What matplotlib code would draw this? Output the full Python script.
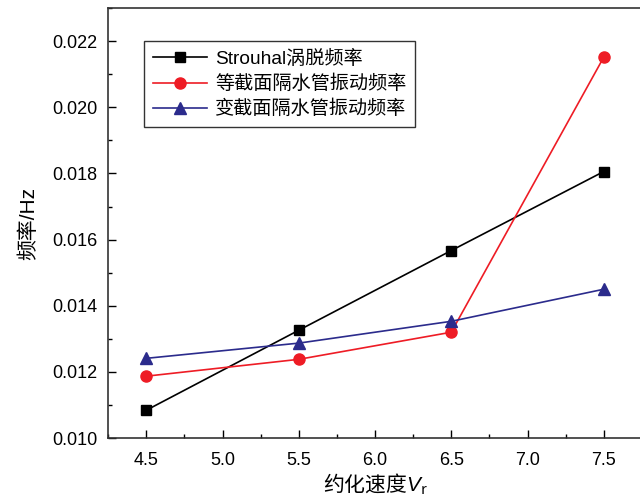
import numpy as np
import matplotlib.pyplot as plt
from matplotlib.ticker import MultipleLocator, FormatStrFormatter

plt.rcParams['font.family'] = ['Liberation Sans', 'Noto Sans CJK SC', 'DejaVu Sans']
plt.rcParams['mathtext.fontset'] = 'custom'
plt.rcParams['mathtext.rm'] = 'Noto Sans CJK SC'
plt.rcParams['mathtext.it'] = 'Liberation Sans:italic'

vr = [4.5, 5.5, 6.5, 7.5]
strouhal = [0.01084, 0.01326, 0.01567, 0.01806]
uniform = [0.01187, 0.01238, 0.01320, 0.02152]
tapered = [0.01241, 0.01287, 0.01353, 0.01450]

labels = ["Strouhal涡脱频率", "等截面隔水管振动频率", "变截面隔水管振动频率"]

fig = plt.figure(figsize=(6.4, 5.01), dpi=100)
ax = fig.add_axes([0.169, 0.1257, 0.834, 0.858])

ax.plot(vr, strouhal, color="black", marker="s", markersize=7, linewidth=1.2, label=labels[0])
ax.plot(vr, uniform, color="#ee1c25", marker="o", markersize=8, linewidth=1.2, label=labels[1])
ax.plot(vr, tapered, color="#2b2b8c", marker="^", markersize=8, linewidth=1.2, label=labels[2])

ax.set_xlim(4.25, 7.75)
ax.set_ylim(0.010, 0.023)
ax.xaxis.set_major_locator(MultipleLocator(0.5))
ax.xaxis.set_minor_locator(MultipleLocator(0.25))
ax.yaxis.set_major_locator(MultipleLocator(0.002))
ax.yaxis.set_minor_locator(MultipleLocator(0.001))
ax.xaxis.set_major_formatter(FormatStrFormatter("%.1f"))
ax.yaxis.set_major_formatter(FormatStrFormatter("%.3f"))
ax.tick_params(which="major", direction="in", length=6, labelsize=13, width=1)
ax.tick_params(which="minor", direction="in", length=3, width=1)
ax.tick_params(axis="x", pad=10)
ax.tick_params(axis="y", pad=8)
for s in ax.spines.values():
    s.set_linewidth(1.2)
    s.set_color("#333333")

ax.set_xlabel("$\\mathrm{约化速度}\\mathit{V}_\\mathrm{r}$", fontsize=15, labelpad=2)
ax.set_ylabel("频率/Hz", fontsize=15, labelpad=10)

leg = ax.legend(loc="upper left", bbox_to_anchor=(0.05, 0.945), fontsize=13.8,
                frameon=True, fancybox=False, edgecolor="black", handlelength=2.8,
                handletextpad=0.45, borderpad=0.45, labelspacing=0.35)
leg.get_frame().set_linewidth(1.0)

fig.savefig("out.png", dpi=100)
